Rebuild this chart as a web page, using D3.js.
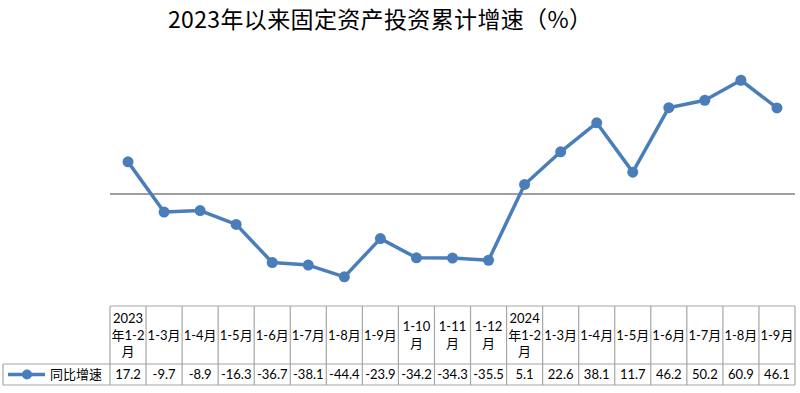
<!DOCTYPE html>
<html><head><meta charset="utf-8">
<script src="https://cdn.jsdelivr.net/npm/d3@7"></script>
<style>
html,body{margin:0;padding:0;background:#fff;}
svg{display:block;}
</style>
</head><body>
<svg id="c" width="800" height="393"></svg>
<script>
const title = "2023年以来固定资产投资累计增速（%）";
const seriesName = "同比增速";
const categories = ["2023年1-2月","1-3月","1-4月","1-5月","1-6月","1-7月","1-8月","1-9月","1-10月","1-11月","1-12月","2024年1-2月","1-3月","1-4月","1-5月","1-6月","1-7月","1-8月","1-9月"];
const headerLines = [["2023","年1-2","月"],["1-3月"],["1-4月"],["1-5月"],["1-6月"],["1-7月"],["1-8月"],["1-9月"],["1-10","月"],["1-11","月"],["1-12","月"],["2024","年1-2","月"],["1-3月"],["1-4月"],["1-5月"],["1-6月"],["1-7月"],["1-8月"],["1-9月"]];
const values = [17.2,-9.7,-8.9,-16.3,-36.7,-38.1,-44.4,-23.9,-34.2,-34.3,-35.5,5.1,22.6,38.1,11.7,46.2,50.2,60.9,46.1];
const yDomain = [-60, 80];

const svg = d3.select("#c");
const blue = "#4a7ebb";
const grid = "#a6a6a6";
const font = "Lato, 'Noto Sans CJK SC', sans-serif";

const x = d3.scaleBand().domain(d3.range(categories.length)).range([110, 795]).padding(0);
const y = d3.scaleLinear().domain(yDomain).range([306, 44.6]);

// title
svg.append("text").attr("x", 380).attr("y", 28).attr("text-anchor","middle")
  .attr("font-family","'Noto Sans CJK SC', sans-serif").attr("font-size",23).attr("fill","#000")
  .attr("textLength",424).attr("lengthAdjust","spacing")
  .text(title);

// zero line
svg.append("line").attr("x1",110).attr("x2",795).attr("y1",y(0)).attr("y2",y(0))
  .attr("stroke","#808080").attr("stroke-width",1.5);

// line
const line = d3.line().x((d,i)=>x(i)+x.bandwidth()/2).y(d=>y(d));
svg.append("path").datum(values).attr("d",line).attr("fill","none")
  .attr("stroke",blue).attr("stroke-width",3.5).attr("stroke-linejoin","round");
svg.selectAll("circle.pt").data(values).join("circle").attr("class","pt")
  .attr("cx",(d,i)=>x(i)+x.bandwidth()/2).attr("cy",d=>y(d)).attr("r",5.5).attr("fill",blue);

// table
const tTop = 306, tMid = 364, tBot = 385;
const g = svg.append("g").attr("stroke",grid).attr("stroke-width",1.2).attr("fill","none");
g.append("line").attr("x1",110).attr("x2",795).attr("y1",tTop).attr("y2",tTop);
g.append("line").attr("x1",3).attr("x2",795).attr("y1",tMid).attr("y2",tMid);
g.append("line").attr("x1",3).attr("x2",795).attr("y1",tBot).attr("y2",tBot);
g.append("line").attr("x1",3).attr("x2",3).attr("y1",tMid).attr("y2",tBot);
g.selectAll("line.v").data(d3.range(categories.length+1)).join("line").attr("class","v")
  .attr("x1",i=>i<categories.length? x(i): x.range()[1]).attr("x2",i=>i<categories.length? x(i): x.range()[1])
  .attr("y1",tTop).attr("y2",tBot);

// header labels
const hc = (tTop+tMid)/2;
headerLines.forEach((lines,i)=>{
  const cx = x(i)+x.bandwidth()/2;
  const lh = 16.5;
  lines.forEach((t,j)=>{
    svg.append("text").attr("x",cx).attr("y",hc + (j-(lines.length-1)/2)*lh).attr("dy","0.36em")
      .attr("text-anchor","middle").attr("font-family",font).attr("font-size",13).attr("fill","#000").text(t);
  });
});
// values
values.forEach((v,i)=>{
  svg.append("text").attr("x",x(i)+x.bandwidth()/2).attr("y",(tMid+tBot)/2).attr("dy","0.36em")
    .attr("text-anchor","middle").attr("font-family",font).attr("font-size",13).attr("fill","#000").text(v);
});
// legend
const ly = (tMid+tBot)/2;
svg.append("line").attr("x1",8).attr("x2",45).attr("y1",ly).attr("y2",ly).attr("stroke",blue).attr("stroke-width",3.5);
svg.append("circle").attr("cx",27).attr("cy",ly).attr("r",5).attr("fill",blue);
svg.append("text").attr("x",50).attr("y",ly).attr("dy","0.36em").attr("font-family",font)
  .attr("font-size",13).attr("fill","#000").text(seriesName);
</script>
</body></html>
